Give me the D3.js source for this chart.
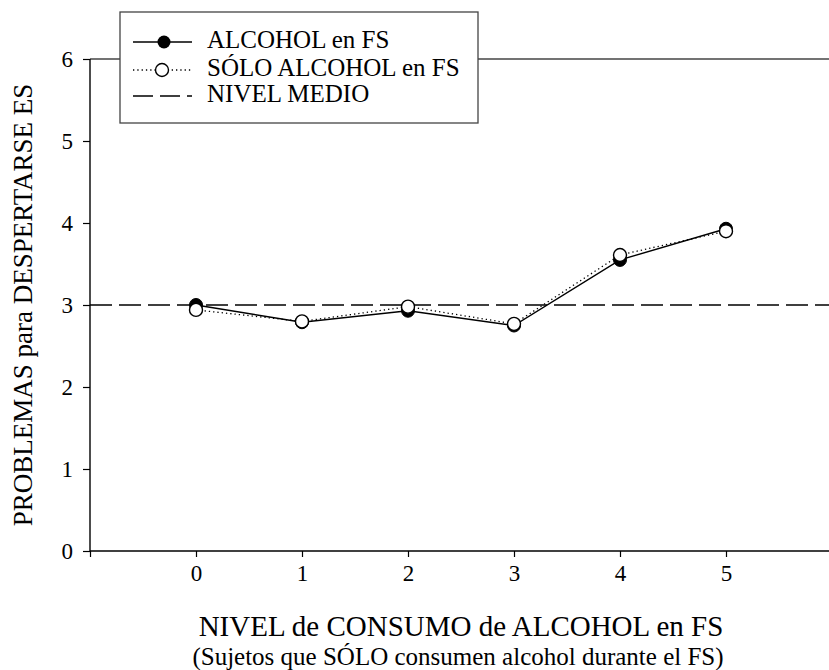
<!DOCTYPE html>
<html>
<head>
<meta charset="utf-8">
<script src="https://cdn.jsdelivr.net/npm/d3@7/dist/d3.min.js"></script>
<style>
  html, body { margin: 0; padding: 0; background: #fff; }
  svg { display: block; }
</style>
</head>
<body>
<svg id="chart" width="829" height="670"></svg>
<script>
// ---- data ----
const levels = [0, 1, 2, 3, 4, 5];
const alcoholFS = [3.00, 2.79, 2.93, 2.75, 3.55, 3.93];
const soloAlcoholFS = [2.94, 2.80, 2.98, 2.77, 3.61, 3.90];
const nivelMedio = 3;
const yTicks = [0, 1, 2, 3, 4, 5, 6];
const xTicks = [-1, 0, 1, 2, 3, 4, 5];
const legendLabels = ["ALCOHOL en FS", "SÓLO ALCOHOL en FS", "NIVEL MEDIO"];
const xTitle = "NIVEL de CONSUMO de ALCOHOL en FS";
const xSubtitle = "(Sujetos que SÓLO consumen alcohol durante el FS)";
const yTitle = "PROBLEMAS para DESPERTARSE ES";

const FONT = "'Liberation Serif', 'Times New Roman', Times, serif";

// ---- layout ----
const svg = d3.select("#chart");
const x = d3.scaleLinear().domain([-1, 6]).range([90, 832]);
const y = d3.scaleLinear().domain([0, 6]).range([551, 59]);

// top frame line
svg.append("line")
  .attr("x1", x(-1)).attr("x2", x(6))
  .attr("y1", y(6)).attr("y2", y(6))
  .attr("stroke", "#444").attr("stroke-width", 1.3);

// axes
const yAxis = svg.append("g")
  .attr("transform", `translate(${x(-1)},0)`)
  .call(d3.axisLeft(y).tickValues(yTicks).tickSize(7).tickPadding(10).tickFormat(d3.format("d")));
const xAxis = svg.append("g")
  .attr("transform", `translate(0,${y(0)})`)
  .call(d3.axisBottom(x).tickValues(xTicks).tickSize(6).tickPadding(8)
    .tickFormat(d => d < 0 ? "" : d3.format("d")(d)));
[yAxis, xAxis].forEach(g => {
  g.attr("font-family", null).attr("font-size", null);
  g.select(".domain").attr("stroke", "#000").attr("stroke-width", 1.4);
  g.selectAll(".tick line").attr("stroke", "#000").attr("stroke-width", 1.2);
  g.selectAll(".tick text").style("font-family", FONT).style("font-size", "23px").attr("fill", "#000");
});
yAxis.select(".domain").attr("d", `M0,${y(0)}V${y(6)}`);
xAxis.select(".domain").attr("d", `M${x(-1)},0H${x(6)}`);

// mean line
svg.append("line")
  .attr("x1", x(-1)).attr("x2", x(6))
  .attr("y1", y(nivelMedio)).attr("y2", y(nivelMedio))
  .attr("stroke", "#000").attr("stroke-width", 1.3)
  .attr("stroke-dasharray", "22,7");

// series
const line = d3.line().x((d, i) => x(levels[i])).y(d => y(d));
svg.append("path").datum(alcoholFS)
  .attr("d", line).attr("fill", "none").attr("stroke", "#000").attr("stroke-width", 1.4);
svg.append("path").datum(soloAlcoholFS)
  .attr("d", line).attr("fill", "none").attr("stroke", "#000").attr("stroke-width", 1.3)
  .attr("stroke-dasharray", "1.3,3");
svg.selectAll(".pf").data(alcoholFS).enter().append("circle")
  .attr("cx", (d, i) => x(levels[i])).attr("cy", d => y(d)).attr("r", 6.5)
  .attr("fill", "#000").attr("stroke", "#000").attr("stroke-width", 1);
svg.selectAll(".po").data(soloAlcoholFS).enter().append("circle")
  .attr("cx", (d, i) => x(levels[i])).attr("cy", d => y(d)).attr("r", 6.5)
  .attr("fill", "#fff").attr("stroke", "#000").attr("stroke-width", 1.4);

// legend
const lg = svg.append("g");
lg.append("rect").attr("x", 120).attr("y", 12).attr("width", 358).attr("height", 111)
  .attr("fill", "#fff").attr("stroke", "#444").attr("stroke-width", 1.3);
const rowsY = [42, 70, 96];
lg.append("line").attr("x1", 133).attr("x2", 192).attr("y1", rowsY[0]).attr("y2", rowsY[0])
  .attr("stroke", "#000").attr("stroke-width", 1.4);
lg.append("circle").attr("cx", 164).attr("cy", rowsY[0]).attr("r", 6.5).attr("fill", "#000");
lg.append("line").attr("x1", 133).attr("x2", 192).attr("y1", rowsY[1]).attr("y2", rowsY[1])
  .attr("stroke", "#000").attr("stroke-width", 1.3).attr("stroke-dasharray", "1.3,3");
lg.append("circle").attr("cx", 162).attr("cy", rowsY[1]).attr("r", 6.5)
  .attr("fill", "#fff").attr("stroke", "#000").attr("stroke-width", 1.4);
lg.append("line").attr("x1", 133).attr("x2", 192).attr("y1", rowsY[2]).attr("y2", rowsY[2])
  .attr("stroke", "#000").attr("stroke-width", 1.3).attr("stroke-dasharray", "20,7");
lg.selectAll(".lt").data(legendLabels).enter().append("text")
  .attr("x", 207).attr("y", (d, i) => rowsY[i] + 6)
  .style("font-family", FONT).style("font-size", "25px").attr("fill", "#000")
  .text(d => d);

// axis titles
const cx = (x(-1) + x(6)) / 2;
svg.append("text").attr("x", cx).attr("y", 636).attr("text-anchor", "middle")
  .style("font-family", FONT).style("font-size", "29px").attr("fill", "#000").text(xTitle);
svg.append("text").attr("x", cx - 3).attr("y", 665).attr("text-anchor", "middle")
  .style("font-family", FONT).style("font-size", "25px").attr("fill", "#000").text(xSubtitle);
svg.append("text")
  .attr("transform", `translate(32,${(y(0) + y(6)) / 2}) rotate(-90)`)
  .attr("text-anchor", "middle")
  .style("font-family", FONT).style("font-size", "27px").attr("fill", "#000").text(yTitle);
</script>
</body>
</html>
